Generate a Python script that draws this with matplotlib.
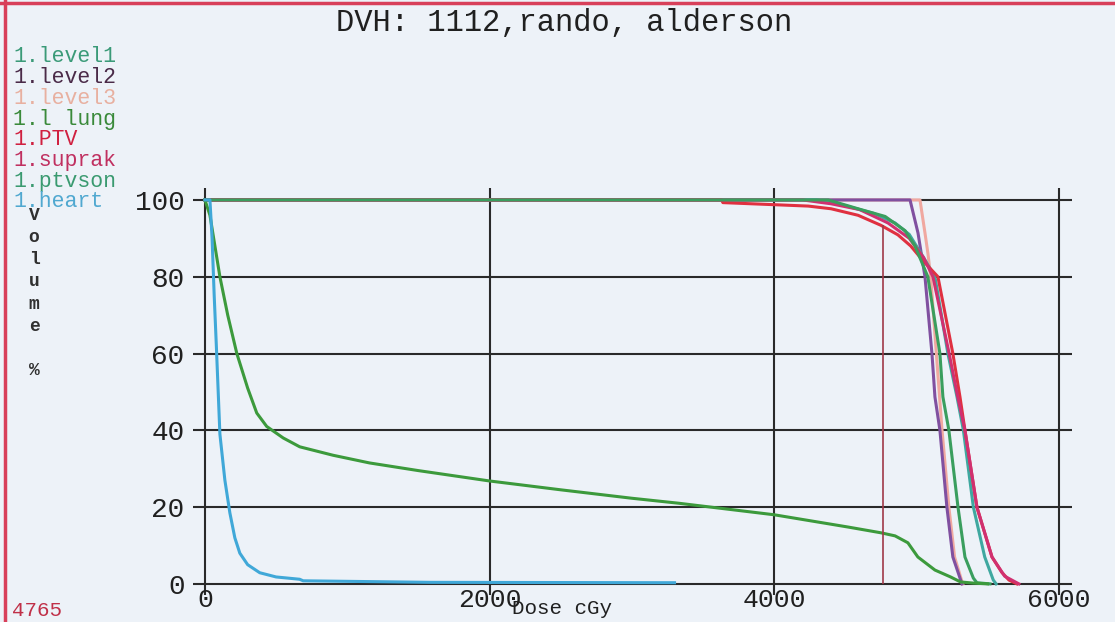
import matplotlib
matplotlib.use("Agg")
import matplotlib.pyplot as plt
from matplotlib.lines import Line2D

MONO = ["Liberation Mono", "DejaVu Sans Mono"]

title = "DVH: 1112,rando, alderson"
legend_names = ["1.level1", "1.level2", "1.level3", "1.l lung", "1.PTV", "1.suprak", "1.ptvson", "1.heart"]
legend_colors = ["#3a9a78", "#4a2a48", "#e8b0a0", "#3a8a3a", "#d02040", "#c03060", "#3a9a70", "#50a8d0"]

level1_dose = [0, 4380, 4590, 4780, 4920, 4990, 5080, 5165, 5186, 5228, 5292, 5341, 5400, 5425, 5517]
level1_vol = [100, 100, 97.7, 95.7, 92, 88, 80, 60, 48.7, 40, 20, 7, 1.5, 0.3, 0]

level2_dose = [0, 4955, 5011, 5060, 5109, 5130, 5165, 5214, 5256, 5320]
level2_vol = [100, 100, 91.4, 80, 60, 48.7, 40, 20, 7, 0]

level3_dose = [0, 5025, 5060, 5081, 5100, 5140, 5180, 5228, 5268, 5325]
level3_vol = [100, 100, 91.4, 86, 80, 60, 40, 20, 7, 0]

lung_dose = [0, 35, 70, 105, 160, 224, 300, 364, 434, 550, 666, 900, 1156, 1500, 2000,
             2500, 3000, 3330, 4000, 4520, 4751, 4850, 4940, 5010, 5130, 5240, 5310, 5400, 5500]
lung_vol = [100, 96, 88, 80, 70, 60, 51, 44.5, 41, 38, 35.7, 33.5, 31.5, 29.5, 26.8,
            24.5, 22.3, 21, 18, 14.8, 13.3, 12.5, 10.7, 7, 3.6, 1.8, 0.5, 0.2, 0]

ptv_dose = [0, 3630, 3640, 4240, 4400, 4590, 4750, 4870, 4960, 5050, 5151, 5256, 5306,
            5341, 5425, 5531, 5600, 5650, 5706]
ptv_vol = [100, 100, 99.3, 98.4, 97.7, 96, 93.4, 90.9, 88, 84, 80, 60, 48.7, 40, 20, 7, 3, 1, 0]

suprak_dose = [0, 4200, 4400, 4600, 4800, 4950, 5050, 5116, 5230, 5290, 5341, 5425, 5531, 5620, 5720]
suprak_vol = [100, 100, 99, 97.5, 94, 90, 85, 80, 60, 48.7, 40, 20, 7, 2, 0]

ptvson_dose = [0, 4300, 4500, 4700, 4850, 4950, 5050, 5130, 5221, 5285, 5330, 5400, 5480, 5540, 5560]
ptvson_vol = [100, 100, 98.5, 96.5, 94, 91, 85, 80, 60, 48.7, 40, 20, 7, 1, 0]

heart_dose = [0, 35, 50, 65, 80, 105, 140, 175, 210, 245, 300, 385, 500, 666, 690, 1580, 3300]
heart_vol = [100, 100, 90, 75, 62, 39, 27, 18.5, 12, 8, 5, 2.9, 1.8, 1.2, 0.8, 0.4, 0.3]

marker_dose = 4765
marker_top = 93.5

x_ticks = [0, 2000, 4000, 6000]
y_ticks = [0, 20, 40, 60, 80, 100]

bg = "#edf2f8"

fig = plt.figure(figsize=(11.15, 6.22), dpi=100, facecolor=bg)
ax = fig.add_axes([0.1731, 0.0434, 0.9614 - 0.1731, 0.6977 - 0.0434])
ax.set_facecolor(bg)

lw = 2.2
ax.plot(level3_dose, level3_vol, color="#f0a8a0", lw=lw)
ax.plot(level2_dose, level2_vol, color="#8050a0", lw=lw)
ax.plot(ptvson_dose, ptvson_vol, color="#3fa8a0", lw=lw)
ax.plot(ptv_dose, ptv_vol, color="#e03040", lw=lw)
ax.plot(suprak_dose, suprak_vol, color="#d03070", lw=lw)
ax.plot(level1_dose, level1_vol, color="#3a9e5e", lw=lw)
ax.plot(lung_dose, lung_vol, color="#3c9a3c", lw=lw)
ax.plot(heart_dose, heart_vol, color="#40a8d8", lw=lw)
ax.vlines(marker_dose, 0, marker_top, color="#a03848", lw=1.2)

ax.set_xlim(-84, 6093)
ax.set_ylim(-2.9, 103.1)
ax.set_xticks(x_ticks)
ax.set_yticks(y_ticks)
ax.set_xticklabels([str(v) for v in x_ticks], family=MONO, fontsize=19, color="#202020")
ax.set_yticklabels([str(v) for v in y_ticks], family=MONO, fontsize=20, color="#202020")
ax.tick_params(axis="both", length=0)
ax.tick_params(axis="x", pad=-5)
ax.tick_params(axis="y", pad=6)
ax.grid(True, color="#2a2a2a", lw=1.5)
ax.set_axisbelow(True)
for s in ax.spines.values():
    s.set_visible(False)

# titles and labels
fig.text(564 / 1115, 1 - 23 / 622, title, family=MONO, fontsize=22, color="#202020",
         ha="center", va="center")
for i, (name, col) in enumerate(zip(legend_names, legend_colors)):
    fig.text(13 / 1115, 1 - (57 + i * 20.7) / 622, name, family=MONO, fontsize=15.5,
             color=col, ha="left", va="center")
fig.text(34 / 1115, 1 - 293 / 622, "V\no\nl\nu\nm\ne\n \n%", family=MONO, fontsize=13,
         fontweight="bold", color="#303030", ha="center", va="center", linespacing=1.4)
fig.text(562 / 1115, 1 - 609 / 622, "Dose cGy", family=MONO, fontsize=15, color="#202020",
         ha="center", va="center")
fig.text(12 / 1115, 1 - 610 / 622, str(marker_dose), family=MONO, fontsize=15,
         color="#c03048", ha="left", va="center")

# red frame of the printout
fig.add_artist(Line2D([5 / 1115, 5 / 1115], [0, 1], color="#d8405a", lw=2.5))
fig.add_artist(Line2D([0, 1], [1 - 3 / 622, 1 - 3 / 622], color="#d8405a", lw=2.5))

fig.savefig("out.png", dpi=100, facecolor=bg)
